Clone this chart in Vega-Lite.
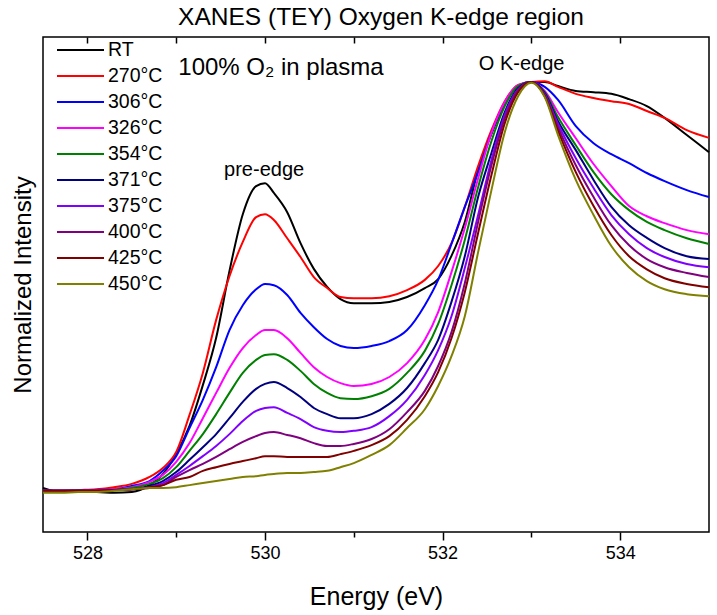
{
"$schema": "https://vega.github.io/schema/vega-lite/v6.json",
"autosize": {"type": "none"},
"padding": {"left": 43, "top": 37, "right": 8, "bottom": 83},
"width": 666, "height": 495,
"background": "white",
"config": {"view": {"stroke": "black", "strokeWidth": 1.5}, "font": "Liberation Sans"},
"title": {"text": "XANES (TEY) Oxygen K-edge region", "fontSize": 24.5, "fontWeight": "normal", "font": "Liberation Sans", "color": "black", "offset": 6, "anchor": "middle", "dx": 5},
"datasets": {
"spectra": [
{"E":527.5,"T":"RT","I":0.005},{"E":527.7,"T":"RT","I":-0.005},{"E":527.9,"T":"RT","I":-0.005},{"E":528.1,"T":"RT","I":-0.005},{"E":528.3,"T":"RT","I":-0.007},{"E":528.5,"T":"RT","I":-0.005},{"E":528.7,"T":"RT","I":0.012},{"E":528.85,"T":"RT","I":0.039},{"E":529.0,"T":"RT","I":0.088},{"E":529.15,"T":"RT","I":0.157},{"E":529.3,"T":"RT","I":0.257},{"E":529.45,"T":"RT","I":0.373},{"E":529.6,"T":"RT","I":0.537},{"E":529.75,"T":"RT","I":0.676},{"E":529.9,"T":"RT","I":0.745},{"E":530.0,"T":"RT","I":0.752},{"E":530.1,"T":"RT","I":0.728},{"E":530.25,"T":"RT","I":0.681},{"E":530.4,"T":"RT","I":0.605},{"E":530.55,"T":"RT","I":0.542},{"E":530.7,"T":"RT","I":0.498},{"E":530.85,"T":"RT","I":0.468},{"E":531.0,"T":"RT","I":0.458},{"E":531.2,"T":"RT","I":0.458},{"E":531.4,"T":"RT","I":0.461},{"E":531.6,"T":"RT","I":0.473},{"E":531.8,"T":"RT","I":0.495},{"E":531.95,"T":"RT","I":0.517},{"E":532.1,"T":"RT","I":0.574},{"E":532.25,"T":"RT","I":0.657},{"E":532.4,"T":"RT","I":0.784},{"E":532.55,"T":"RT","I":0.873},{"E":532.7,"T":"RT","I":0.946},{"E":532.85,"T":"RT","I":0.990},{"E":533.0,"T":"RT","I":1.000},{"E":533.15,"T":"RT","I":1.000},{"E":533.3,"T":"RT","I":0.990},{"E":533.5,"T":"RT","I":0.978},{"E":533.7,"T":"RT","I":0.975},{"E":533.9,"T":"RT","I":0.971},{"E":534.1,"T":"RT","I":0.958},{"E":534.3,"T":"RT","I":0.941},{"E":534.5,"T":"RT","I":0.912},{"E":534.75,"T":"RT","I":0.870},{"E":535.0,"T":"RT","I":0.828},
{"E":527.5,"T":"270°C","I":-0.002},{"E":527.7,"T":"270°C","I":-0.002},{"E":527.9,"T":"270°C","I":0.0},{"E":528.1,"T":"270°C","I":0.002},{"E":528.3,"T":"270°C","I":0.007},{"E":528.5,"T":"270°C","I":0.015},{"E":528.7,"T":"270°C","I":0.032},{"E":528.85,"T":"270°C","I":0.054},{"E":529.0,"T":"270°C","I":0.093},{"E":529.15,"T":"270°C","I":0.184},{"E":529.3,"T":"270°C","I":0.287},{"E":529.45,"T":"270°C","I":0.417},{"E":529.6,"T":"270°C","I":0.524},{"E":529.75,"T":"270°C","I":0.608},{"E":529.9,"T":"270°C","I":0.669},{"E":530.0,"T":"270°C","I":0.676},{"E":530.1,"T":"270°C","I":0.662},{"E":530.25,"T":"270°C","I":0.617},{"E":530.4,"T":"270°C","I":0.571},{"E":530.55,"T":"270°C","I":0.522},{"E":530.7,"T":"270°C","I":0.495},{"E":530.85,"T":"270°C","I":0.473},{"E":531.0,"T":"270°C","I":0.470},{"E":531.2,"T":"270°C","I":0.470},{"E":531.4,"T":"270°C","I":0.475},{"E":531.6,"T":"270°C","I":0.490},{"E":531.8,"T":"270°C","I":0.515},{"E":531.95,"T":"270°C","I":0.549},{"E":532.1,"T":"270°C","I":0.605},{"E":532.25,"T":"270°C","I":0.694},{"E":532.4,"T":"270°C","I":0.794},{"E":532.55,"T":"270°C","I":0.882},{"E":532.7,"T":"270°C","I":0.953},{"E":532.85,"T":"270°C","I":0.993},{"E":533.0,"T":"270°C","I":1.000},{"E":533.15,"T":"270°C","I":1.002},{"E":533.3,"T":"270°C","I":0.988},{"E":533.5,"T":"270°C","I":0.971},{"E":533.7,"T":"270°C","I":0.961},{"E":533.9,"T":"270°C","I":0.953},{"E":534.1,"T":"270°C","I":0.946},{"E":534.3,"T":"270°C","I":0.929},{"E":534.5,"T":"270°C","I":0.912},{"E":534.75,"T":"270°C","I":0.882},{"E":535.0,"T":"270°C","I":0.863},
{"E":527.5,"T":"306°C","I":-0.002},{"E":527.7,"T":"306°C","I":-0.002},{"E":527.9,"T":"306°C","I":-0.002},{"E":528.1,"T":"306°C","I":0.0},{"E":528.3,"T":"306°C","I":0.002},{"E":528.5,"T":"306°C","I":0.010},{"E":528.7,"T":"306°C","I":0.022},{"E":528.85,"T":"306°C","I":0.047},{"E":529.0,"T":"306°C","I":0.083},{"E":529.15,"T":"306°C","I":0.152},{"E":529.3,"T":"306°C","I":0.221},{"E":529.45,"T":"306°C","I":0.301},{"E":529.6,"T":"306°C","I":0.392},{"E":529.75,"T":"306°C","I":0.453},{"E":529.9,"T":"306°C","I":0.492},{"E":530.0,"T":"306°C","I":0.505},{"E":530.1,"T":"306°C","I":0.502},{"E":530.25,"T":"306°C","I":0.478},{"E":530.4,"T":"306°C","I":0.434},{"E":530.55,"T":"306°C","I":0.399},{"E":530.7,"T":"306°C","I":0.370},{"E":530.85,"T":"306°C","I":0.353},{"E":531.0,"T":"306°C","I":0.348},{"E":531.2,"T":"306°C","I":0.353},{"E":531.4,"T":"306°C","I":0.365},{"E":531.6,"T":"306°C","I":0.392},{"E":531.8,"T":"306°C","I":0.453},{"E":531.95,"T":"306°C","I":0.515},{"E":532.1,"T":"306°C","I":0.603},{"E":532.25,"T":"306°C","I":0.694},{"E":532.4,"T":"306°C","I":0.779},{"E":532.55,"T":"306°C","I":0.875},{"E":532.7,"T":"306°C","I":0.948},{"E":532.85,"T":"306°C","I":0.990},{"E":533.0,"T":"306°C","I":1.000},{"E":533.15,"T":"306°C","I":0.988},{"E":533.3,"T":"306°C","I":0.956},{"E":533.5,"T":"306°C","I":0.892},{"E":533.7,"T":"306°C","I":0.850},{"E":533.9,"T":"306°C","I":0.823},{"E":534.1,"T":"306°C","I":0.801},{"E":534.3,"T":"306°C","I":0.777},{"E":534.5,"T":"306°C","I":0.757},{"E":534.75,"T":"306°C","I":0.735},{"E":535.0,"T":"306°C","I":0.718},
{"E":527.5,"T":"326°C","I":-0.002},{"E":527.7,"T":"326°C","I":-0.002},{"E":527.9,"T":"326°C","I":-0.002},{"E":528.1,"T":"326°C","I":0.0},{"E":528.3,"T":"326°C","I":0.002},{"E":528.5,"T":"326°C","I":0.007},{"E":528.7,"T":"326°C","I":0.020},{"E":528.85,"T":"326°C","I":0.037},{"E":529.0,"T":"326°C","I":0.069},{"E":529.15,"T":"326°C","I":0.115},{"E":529.3,"T":"326°C","I":0.176},{"E":529.45,"T":"326°C","I":0.238},{"E":529.6,"T":"326°C","I":0.299},{"E":529.75,"T":"326°C","I":0.348},{"E":529.9,"T":"326°C","I":0.380},{"E":530.0,"T":"326°C","I":0.392},{"E":530.1,"T":"326°C","I":0.392},{"E":530.25,"T":"326°C","I":0.372},{"E":530.4,"T":"326°C","I":0.336},{"E":530.55,"T":"326°C","I":0.301},{"E":530.7,"T":"326°C","I":0.277},{"E":530.85,"T":"326°C","I":0.262},{"E":531.0,"T":"326°C","I":0.255},{"E":531.2,"T":"326°C","I":0.260},{"E":531.4,"T":"326°C","I":0.277},{"E":531.6,"T":"326°C","I":0.311},{"E":531.8,"T":"326°C","I":0.368},{"E":531.95,"T":"326°C","I":0.436},{"E":532.1,"T":"326°C","I":0.534},{"E":532.25,"T":"326°C","I":0.642},{"E":532.4,"T":"326°C","I":0.764},{"E":532.55,"T":"326°C","I":0.875},{"E":532.7,"T":"326°C","I":0.951},{"E":532.85,"T":"326°C","I":0.992},{"E":533.0,"T":"326°C","I":1.000},{"E":533.15,"T":"326°C","I":0.978},{"E":533.3,"T":"326°C","I":0.926},{"E":533.5,"T":"326°C","I":0.862},{"E":533.7,"T":"326°C","I":0.799},{"E":533.9,"T":"326°C","I":0.745},{"E":534.1,"T":"326°C","I":0.696},{"E":534.3,"T":"326°C","I":0.671},{"E":534.5,"T":"326°C","I":0.654},{"E":534.75,"T":"326°C","I":0.637},{"E":535.0,"T":"326°C","I":0.627},
{"E":527.5,"T":"354°C","I":-0.002},{"E":527.7,"T":"354°C","I":-0.002},{"E":527.9,"T":"354°C","I":-0.002},{"E":528.1,"T":"354°C","I":-0.002},{"E":528.3,"T":"354°C","I":0.0},{"E":528.5,"T":"354°C","I":0.005},{"E":528.7,"T":"354°C","I":0.015},{"E":528.85,"T":"354°C","I":0.029},{"E":529.0,"T":"354°C","I":0.056},{"E":529.15,"T":"354°C","I":0.096},{"E":529.3,"T":"354°C","I":0.137},{"E":529.45,"T":"354°C","I":0.186},{"E":529.6,"T":"354°C","I":0.238},{"E":529.75,"T":"354°C","I":0.287},{"E":529.9,"T":"354°C","I":0.319},{"E":530.0,"T":"354°C","I":0.331},{"E":530.1,"T":"354°C","I":0.333},{"E":530.25,"T":"354°C","I":0.319},{"E":530.4,"T":"354°C","I":0.292},{"E":530.55,"T":"354°C","I":0.260},{"E":530.7,"T":"354°C","I":0.238},{"E":530.85,"T":"354°C","I":0.225},{"E":531.0,"T":"354°C","I":0.223},{"E":531.2,"T":"354°C","I":0.230},{"E":531.4,"T":"354°C","I":0.248},{"E":531.6,"T":"354°C","I":0.287},{"E":531.8,"T":"354°C","I":0.341},{"E":531.95,"T":"354°C","I":0.407},{"E":532.1,"T":"354°C","I":0.502},{"E":532.25,"T":"354°C","I":0.613},{"E":532.4,"T":"354°C","I":0.742},{"E":532.55,"T":"354°C","I":0.855},{"E":532.7,"T":"354°C","I":0.941},{"E":532.85,"T":"354°C","I":0.990},{"E":533.0,"T":"354°C","I":1.000},{"E":533.15,"T":"354°C","I":0.975},{"E":533.3,"T":"354°C","I":0.914},{"E":533.5,"T":"354°C","I":0.845},{"E":533.7,"T":"354°C","I":0.779},{"E":533.9,"T":"354°C","I":0.725},{"E":534.1,"T":"354°C","I":0.686},{"E":534.3,"T":"354°C","I":0.657},{"E":534.5,"T":"354°C","I":0.637},{"E":534.75,"T":"354°C","I":0.617},{"E":535.0,"T":"354°C","I":0.603},
{"E":527.5,"T":"371°C","I":-0.002},{"E":527.7,"T":"371°C","I":-0.002},{"E":527.9,"T":"371°C","I":-0.002},{"E":528.1,"T":"371°C","I":-0.002},{"E":528.3,"T":"371°C","I":0.0},{"E":528.5,"T":"371°C","I":0.002},{"E":528.7,"T":"371°C","I":0.010},{"E":528.85,"T":"371°C","I":0.022},{"E":529.0,"T":"371°C","I":0.044},{"E":529.15,"T":"371°C","I":0.074},{"E":529.3,"T":"371°C","I":0.105},{"E":529.45,"T":"371°C","I":0.137},{"E":529.6,"T":"371°C","I":0.176},{"E":529.75,"T":"371°C","I":0.216},{"E":529.9,"T":"371°C","I":0.248},{"E":530.0,"T":"371°C","I":0.260},{"E":530.1,"T":"371°C","I":0.265},{"E":530.25,"T":"371°C","I":0.250},{"E":530.4,"T":"371°C","I":0.228},{"E":530.55,"T":"371°C","I":0.201},{"E":530.7,"T":"371°C","I":0.186},{"E":530.85,"T":"371°C","I":0.176},{"E":531.0,"T":"371°C","I":0.176},{"E":531.2,"T":"371°C","I":0.186},{"E":531.4,"T":"371°C","I":0.211},{"E":531.6,"T":"371°C","I":0.250},{"E":531.8,"T":"371°C","I":0.311},{"E":531.95,"T":"371°C","I":0.368},{"E":532.1,"T":"371°C","I":0.461},{"E":532.25,"T":"371°C","I":0.573},{"E":532.4,"T":"371°C","I":0.718},{"E":532.55,"T":"371°C","I":0.826},{"E":532.7,"T":"371°C","I":0.926},{"E":532.85,"T":"371°C","I":0.985},{"E":533.0,"T":"371°C","I":1.000},{"E":533.15,"T":"371°C","I":0.973},{"E":533.3,"T":"371°C","I":0.904},{"E":533.5,"T":"371°C","I":0.833},{"E":533.7,"T":"371°C","I":0.760},{"E":533.9,"T":"371°C","I":0.694},{"E":534.1,"T":"371°C","I":0.649},{"E":534.3,"T":"371°C","I":0.618},{"E":534.5,"T":"371°C","I":0.593},{"E":534.75,"T":"371°C","I":0.573},{"E":535.0,"T":"371°C","I":0.566},
{"E":527.5,"T":"375°C","I":-0.002},{"E":527.7,"T":"375°C","I":-0.002},{"E":527.9,"T":"375°C","I":-0.002},{"E":528.1,"T":"375°C","I":-0.002},{"E":528.3,"T":"375°C","I":0.0},{"E":528.5,"T":"375°C","I":0.002},{"E":528.7,"T":"375°C","I":0.007},{"E":528.85,"T":"375°C","I":0.017},{"E":529.0,"T":"375°C","I":0.037},{"E":529.15,"T":"375°C","I":0.059},{"E":529.3,"T":"375°C","I":0.083},{"E":529.45,"T":"375°C","I":0.108},{"E":529.6,"T":"375°C","I":0.137},{"E":529.75,"T":"375°C","I":0.169},{"E":529.9,"T":"375°C","I":0.194},{"E":530.0,"T":"375°C","I":0.201},{"E":530.1,"T":"375°C","I":0.203},{"E":530.25,"T":"375°C","I":0.189},{"E":530.4,"T":"375°C","I":0.174},{"E":530.55,"T":"375°C","I":0.154},{"E":530.7,"T":"375°C","I":0.145},{"E":530.85,"T":"375°C","I":0.142},{"E":531.0,"T":"375°C","I":0.145},{"E":531.2,"T":"375°C","I":0.154},{"E":531.4,"T":"375°C","I":0.181},{"E":531.6,"T":"375°C","I":0.221},{"E":531.8,"T":"375°C","I":0.282},{"E":531.95,"T":"375°C","I":0.343},{"E":532.1,"T":"375°C","I":0.426},{"E":532.25,"T":"375°C","I":0.544},{"E":532.4,"T":"375°C","I":0.674},{"E":532.55,"T":"375°C","I":0.809},{"E":532.7,"T":"375°C","I":0.919},{"E":532.85,"T":"375°C","I":0.982},{"E":533.0,"T":"375°C","I":1.000},{"E":533.15,"T":"375°C","I":0.970},{"E":533.3,"T":"375°C","I":0.897},{"E":533.5,"T":"375°C","I":0.813},{"E":533.7,"T":"375°C","I":0.740},{"E":533.9,"T":"375°C","I":0.674},{"E":534.1,"T":"375°C","I":0.627},{"E":534.3,"T":"375°C","I":0.593},{"E":534.5,"T":"375°C","I":0.571},{"E":534.75,"T":"375°C","I":0.554},{"E":535.0,"T":"375°C","I":0.546},
{"E":527.5,"T":"400°C","I":-0.002},{"E":527.7,"T":"400°C","I":-0.002},{"E":527.9,"T":"400°C","I":-0.002},{"E":528.1,"T":"400°C","I":-0.002},{"E":528.3,"T":"400°C","I":0.0},{"E":528.5,"T":"400°C","I":0.002},{"E":528.7,"T":"400°C","I":0.005},{"E":528.85,"T":"400°C","I":0.012},{"E":529.0,"T":"400°C","I":0.032},{"E":529.15,"T":"400°C","I":0.049},{"E":529.3,"T":"400°C","I":0.064},{"E":529.45,"T":"400°C","I":0.081},{"E":529.6,"T":"400°C","I":0.100},{"E":529.75,"T":"400°C","I":0.118},{"E":529.9,"T":"400°C","I":0.132},{"E":530.0,"T":"400°C","I":0.140},{"E":530.1,"T":"400°C","I":0.142},{"E":530.25,"T":"400°C","I":0.135},{"E":530.4,"T":"400°C","I":0.127},{"E":530.55,"T":"400°C","I":0.115},{"E":530.7,"T":"400°C","I":0.108},{"E":530.85,"T":"400°C","I":0.108},{"E":531.0,"T":"400°C","I":0.113},{"E":531.2,"T":"400°C","I":0.125},{"E":531.4,"T":"400°C","I":0.149},{"E":531.6,"T":"400°C","I":0.191},{"E":531.8,"T":"400°C","I":0.243},{"E":531.95,"T":"400°C","I":0.304},{"E":532.1,"T":"400°C","I":0.387},{"E":532.25,"T":"400°C","I":0.507},{"E":532.4,"T":"400°C","I":0.657},{"E":532.55,"T":"400°C","I":0.796},{"E":532.7,"T":"400°C","I":0.911},{"E":532.85,"T":"400°C","I":0.980},{"E":533.0,"T":"400°C","I":1.000},{"E":533.15,"T":"400°C","I":0.968},{"E":533.3,"T":"400°C","I":0.889},{"E":533.5,"T":"400°C","I":0.796},{"E":533.7,"T":"400°C","I":0.718},{"E":533.9,"T":"400°C","I":0.649},{"E":534.1,"T":"400°C","I":0.600},{"E":534.3,"T":"400°C","I":0.566},{"E":534.5,"T":"400°C","I":0.546},{"E":534.75,"T":"400°C","I":0.532},{"E":535.0,"T":"400°C","I":0.522},
{"E":527.5,"T":"425°C","I":-0.002},{"E":527.7,"T":"425°C","I":-0.002},{"E":527.9,"T":"425°C","I":-0.002},{"E":528.1,"T":"425°C","I":-0.002},{"E":528.3,"T":"425°C","I":0.0},{"E":528.5,"T":"425°C","I":0.002},{"E":528.7,"T":"425°C","I":0.007},{"E":528.85,"T":"425°C","I":0.012},{"E":529.0,"T":"425°C","I":0.025},{"E":529.15,"T":"425°C","I":0.032},{"E":529.3,"T":"425°C","I":0.047},{"E":529.45,"T":"425°C","I":0.056},{"E":529.6,"T":"425°C","I":0.064},{"E":529.75,"T":"425°C","I":0.071},{"E":529.9,"T":"425°C","I":0.078},{"E":530.0,"T":"425°C","I":0.083},{"E":530.1,"T":"425°C","I":0.083},{"E":530.25,"T":"425°C","I":0.081},{"E":530.4,"T":"425°C","I":0.081},{"E":530.55,"T":"425°C","I":0.081},{"E":530.7,"T":"425°C","I":0.081},{"E":530.85,"T":"425°C","I":0.088},{"E":531.0,"T":"425°C","I":0.096},{"E":531.2,"T":"425°C","I":0.110},{"E":531.4,"T":"425°C","I":0.132},{"E":531.6,"T":"425°C","I":0.172},{"E":531.8,"T":"425°C","I":0.230},{"E":531.95,"T":"425°C","I":0.289},{"E":532.1,"T":"425°C","I":0.372},{"E":532.25,"T":"425°C","I":0.485},{"E":532.4,"T":"425°C","I":0.630},{"E":532.55,"T":"425°C","I":0.772},{"E":532.7,"T":"425°C","I":0.899},{"E":532.85,"T":"425°C","I":0.975},{"E":533.0,"T":"425°C","I":1.000},{"E":533.15,"T":"425°C","I":0.965},{"E":533.3,"T":"425°C","I":0.880},{"E":533.5,"T":"425°C","I":0.779},{"E":533.7,"T":"425°C","I":0.696},{"E":533.9,"T":"425°C","I":0.625},{"E":534.1,"T":"425°C","I":0.573},{"E":534.3,"T":"425°C","I":0.541},{"E":534.5,"T":"425°C","I":0.519},{"E":534.75,"T":"425°C","I":0.505},{"E":535.0,"T":"425°C","I":0.497},
{"E":527.5,"T":"450°C","I":-0.007},{"E":527.7,"T":"450°C","I":-0.007},{"E":527.9,"T":"450°C","I":-0.005},{"E":528.1,"T":"450°C","I":-0.005},{"E":528.3,"T":"450°C","I":-0.002},{"E":528.5,"T":"450°C","I":0.002},{"E":528.7,"T":"450°C","I":0.005},{"E":528.85,"T":"450°C","I":0.005},{"E":529.0,"T":"450°C","I":0.007},{"E":529.15,"T":"450°C","I":0.012},{"E":529.3,"T":"450°C","I":0.017},{"E":529.45,"T":"450°C","I":0.022},{"E":529.6,"T":"450°C","I":0.027},{"E":529.75,"T":"450°C","I":0.032},{"E":529.9,"T":"450°C","I":0.034},{"E":530.0,"T":"450°C","I":0.037},{"E":530.1,"T":"450°C","I":0.039},{"E":530.25,"T":"450°C","I":0.042},{"E":530.4,"T":"450°C","I":0.042},{"E":530.55,"T":"450°C","I":0.044},{"E":530.7,"T":"450°C","I":0.047},{"E":530.85,"T":"450°C","I":0.056},{"E":531.0,"T":"450°C","I":0.066},{"E":531.2,"T":"450°C","I":0.086},{"E":531.4,"T":"450°C","I":0.110},{"E":531.6,"T":"450°C","I":0.152},{"E":531.8,"T":"450°C","I":0.198},{"E":531.95,"T":"450°C","I":0.255},{"E":532.1,"T":"450°C","I":0.328},{"E":532.25,"T":"450°C","I":0.426},{"E":532.4,"T":"450°C","I":0.583},{"E":532.55,"T":"450°C","I":0.735},{"E":532.7,"T":"450°C","I":0.877},{"E":532.85,"T":"450°C","I":0.965},{"E":533.0,"T":"450°C","I":0.998},{"E":533.15,"T":"450°C","I":0.963},{"E":533.3,"T":"450°C","I":0.870},{"E":533.5,"T":"450°C","I":0.760},{"E":533.7,"T":"450°C","I":0.674},{"E":533.9,"T":"450°C","I":0.598},{"E":534.1,"T":"450°C","I":0.546},{"E":534.3,"T":"450°C","I":0.512},{"E":534.5,"T":"450°C","I":0.492},{"E":534.75,"T":"450°C","I":0.480},{"E":535.0,"T":"450°C","I":0.475}
],
"condition": [{"E": 530.18, "I": 1.034, "label": "100% O₂ in plasma"}],
"features": [{"E": 529.99, "I": 0.784, "label": "pre-edge"}, {"E": 532.89, "I": 1.044, "label": "O K-edge"}]
},
"resolve": {"scale": {"x": "independent"}, "axis": {"x": "independent", "y": "independent"}},
"layer": [
{"data": {"name": "spectra"},
 "mark": {"type": "line", "strokeWidth": 2, "interpolate": "monotone"},
 "encoding": {
  "x": {"field": "E", "type": "quantitative", "scale": {"domain": [527.5, 535], "nice": false, "zero": false},
   "axis": {"orient": "bottom", "values": [528, 529, 530, 531, 532, 533, 534], "labelExpr": "datum.value % 2 == 0 ? datum.label : ''", "format": "d",
    "tickSize": {"condition": {"test": "datum.value % 2 == 0", "value": 8}, "value": 5}, "tickWidth": 1.5, "tickColor": "black", "domain": false, "grid": false,
    "labelFontSize": 18, "labelColor": "black", "labelFont": "Liberation Sans", "labelPadding": 4,
    "title": "Energy (eV)", "titleFontSize": 25, "titleFontWeight": "normal", "titleColor": "black", "titleFont": "Liberation Sans", "titlePadding": 22}},
  "y": {"field": "I", "type": "quantitative", "scale": {"domain": [-0.1029, 1.1103], "nice": false, "zero": false},
   "axis": {"orient": "left", "labels": false, "ticks": false, "domain": false, "grid": false,
    "title": "Normalized Intensity", "titleFontSize": 24, "titleFontWeight": "normal", "titleColor": "black", "titleFont": "Liberation Sans", "titlePadding": 8}},
  "color": {"field": "T", "type": "nominal",
   "scale": {"domain": ["RT", "270°C", "306°C", "326°C", "354°C", "371°C", "375°C", "400°C", "425°C", "450°C"],
             "range": ["#000000", "#FF0000", "#0000FF", "#FF00FF", "#008000", "#000080", "#8000FF", "#800080", "#800000", "#808000"]},
   "legend": {"orient": "none", "legendX": 13, "legendY": 0, "title": null, "symbolType": "stroke", "symbolSize": 2209, "symbolStrokeWidth": 2,
    "clipHeight": 25.8, "labelFontSize": 19.5, "labelFont": "Liberation Sans", "labelColor": "black", "rowPadding": 0, "labelOffset": 3, "labelLimit": 200}}
 }},
{"data": {"name": "features"},
 "mark": {"type": "text", "fontSize": 20, "font": "Liberation Sans", "color": "black", "align": "center", "baseline": "middle"},
 "encoding": {
  "x": {"field": "E", "type": "quantitative", "scale": {"domain": [527.5, 535], "nice": false, "zero": false},
   "axis": {"orient": "top", "offset": -6, "zindex": 2, "values": [528, 529, 530, 531, 532, 533, 534], "tickSize": 6, "tickWidth": 1.5, "tickColor": "black", "labels": false, "domain": false, "grid": false, "title": null}},
  "y": {"field": "I", "type": "quantitative", "axis": null},
  "text": {"field": "label"}
 }},
{"data": {"name": "condition"},
 "mark": {"type": "text", "fontSize": 24, "font": "Liberation Sans", "color": "black", "align": "center", "baseline": "middle"},
 "encoding": {
  "x": {"field": "E", "type": "quantitative", "scale": {"domain": [527.5, 535], "nice": false, "zero": false}, "axis": null},
  "y": {"field": "I", "type": "quantitative", "axis": null},
  "text": {"field": "label"}
 }}
]
}
